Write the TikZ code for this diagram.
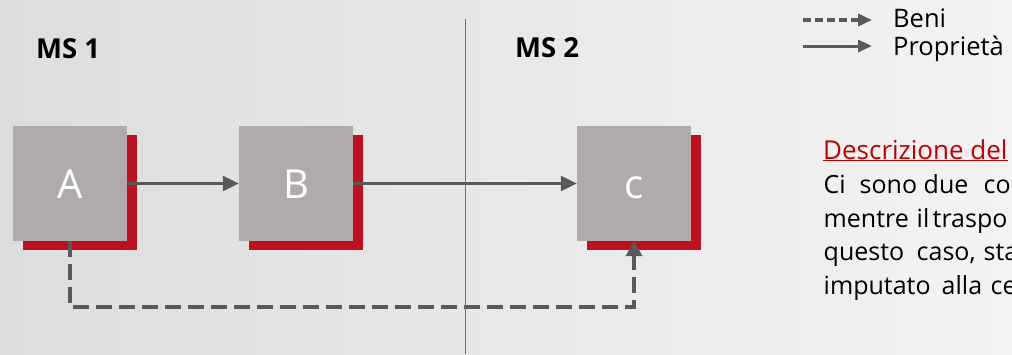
\documentclass[tikz,border=0pt]{standalone}
\usepackage{fontspec}
\setmainfont{Open Sans}
\usetikzlibrary{arrows.meta,shadows}
\definecolor{boxgray}{RGB}{175,171,170}
\definecolor{boxred}{RGB}{190,16,30}
\definecolor{arrgray}{RGB}{89,89,89}
\definecolor{divblue}{RGB}{68,114,196}
\definecolor{titred}{RGB}{192,0,0}
\definecolor{bgleft}{RGB}{221,221,221}
\definecolor{bgright}{RGB}{243,243,243}
\begin{document}
\begin{tikzpicture}[x=1pt,y=-1pt,
  entity/.style={rectangle, fill=boxgray, minimum width=114pt, minimum height=115pt,
    inner sep=0pt, text=white, font=\fontsize{40}{48}\selectfont,
    text height=29pt, text depth=0pt,
    general shadow={fill=boxred, shadow xshift=10pt, shadow yshift=-9pt}},
  prop/.style={draw=arrgray, line width=2.7pt, -{Triangle[length=16pt,width=15pt]}},
  goods/.style={draw=arrgray, line width=4pt, dash pattern=on 16pt off 7pt,
    -{Triangle[length=15pt,width=16pt]}},
  legprop/.style={draw=arrgray, line width=3pt, -{Triangle[length=14pt,width=12pt]}},
  leggoods/.style={draw=arrgray, line width=3.5pt, dash pattern=on 8pt off 4pt,
    -{Triangle[length=14pt,width=12pt]}},
  mslabel/.style={anchor=base west, inner sep=0pt, font=\bfseries\fontsize{27.5}{32}\selectfont},
  legtext/.style={anchor=base west, inner sep=0pt, font=\fontsize{25.5}{30}\selectfont},
  desctitle/.style={anchor=base west, inner sep=0pt, font=\fontsize{26}{30}\selectfont},
  desc/.style={anchor=base west, inner sep=0pt, font=\fontsize{25}{30}\selectfont},
]
\clip (0,0) rectangle (1012,354);
\shade[left color=bgleft, right color=bgright] (0,0) rectangle (1012,354);

% titles
\node[mslabel] (ms1) at (36,58.5) {MS 1};
\node[mslabel] (ms2) at (515,57.5) {MS 2};

% entities
\node[entity] (A) at (70,183.5) {A};
\node[entity] (B) at (296,183.5) {B};
\node[entity] (C) at (634,183.5) {c};

% connectors
\draw[prop] (A.east) -- (B.west);
\draw[prop] (B.east) -- (C.west);
\coordinate (low) at (70,307);
\draw[goods] (A.south) -- (low) -| (C.south);

% divider
\coordinate (divtop) at (465.5,19);
\coordinate (divbot) at (465.5,354);
\draw[divblue, line width=1.3pt] (divtop) -- (divbot);

% legend
\coordinate (lg1) at (803,20);
\coordinate (lg2) at (872,20);
\coordinate (lp1) at (803,46);
\coordinate (lp2) at (872,46);
\draw[leggoods] (lg1) -- (lg2);
\draw[legprop] (lp1) -- (lp2);
\node[legtext] (beni) at (893,27) {Beni};
\node[legtext] (prop) at (893,55) {Proprietà};

% description
\node[desctitle, text=titred] (dtitle) at (823,159) {\underline{Descrizione del}};
\node[desc] (d1) at (823.5,193.5) {\makebox[36pt][l]{Ci}\makebox[64pt][l]{sono}\makebox[60pt][l]{due}co};
\node[desc] (d2) at (823.5,227) {\makebox[93pt][l]{mentre}\makebox[16pt][l]{il}traspo};
\node[desc] (d3) at (823.5,260.5) {\makebox[93pt][l]{questo}\makebox[67pt][l]{caso,}sta};
\node[desc] (d4) at (823.5,294) {\makebox[118pt][l]{imputato}\makebox[49pt][l]{alla}ce};
\end{tikzpicture}
\end{document}
